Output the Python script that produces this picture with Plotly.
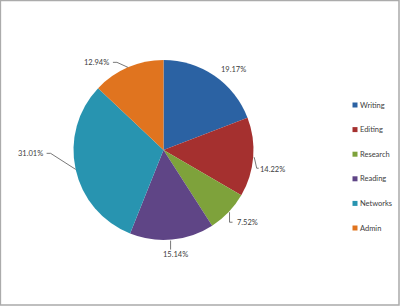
import math
import plotly.graph_objects as go

categories = ["Writing", "Editing", "Research", "Reading", "Networks", "Admin"]
shares = [19.17, 14.22, 7.52, 15.14, 31.01, 12.94]
colors = ["#2B62A3", "#A5302F", "#7EA23B", "#5F4586", "#2894B0", "#E0741F"]

W, H = 400, 306
CX, CY, R = 163.5, 150.0, 90.0

# label layout offsets (pixel offsets from slice edge point), style only
label_off = [(5, -6), (5, 12), (6, 10), (3, 15), (-31, -16), (-17, -5)]
label_anchor = ["left", "left", "left", "center", "right", "right"]
leader = [False, True, True, True, True, True]

fig = go.Figure()
fig.add_trace(go.Pie(
    labels=categories, values=shares, sort=False, direction="clockwise",
    rotation=0, marker=dict(colors=colors, line=dict(width=0)),
    textinfo="none", hoverinfo="label+percent", showlegend=False,
    domain=dict(x=[(CX - R) / W, (CX + R) / W],
                y=[(H - CY - R) / H, (H - CY + R) / H]),
))

def px2paper(x, y):
    return x / W, (H - y) / H

total = sum(shares)
shapes = []
annotations = []
cum = 0.0
for i, (cat, v) in enumerate(zip(categories, shares)):
    mid = (cum + v / 2) / total * 2 * math.pi
    cum += v
    ex = CX + R * math.sin(mid)
    ey = CY - R * math.cos(mid)
    dx, dy = label_off[i]
    lx, ly = ex + dx, ey + dy
    anc = label_anchor[i]
    if leader[i]:
        if anc == "left":
            ex0 = ex + 1
            pts = [(ex0, ey), (lx - 1.5, ly - 1), (lx + 0.5, ly - 1)] if i == 1 else [(ex0, ey), (ex0, ly), (lx - 2, ly)]
        elif anc == "right":
            pts = [(ex, ey), (lx + 6, ly), (lx + 2, ly)]
        else:
            pts = [(ex - 1.5, ey + 1), (ex - 1.5, ly - 5)]
        path = "M " + " L ".join(f"{px2paper(x, y)[0]:.5f},{px2paper(x, y)[1]:.5f}" for x, y in pts)
        shapes.append(dict(type="path", path=path, xref="paper", yref="paper",
                           line=dict(color="#555555", width=0.8)))
    ax, ay = px2paper(lx, ly)
    annotations.append(dict(x=ax, y=ay, xref="paper", yref="paper",
                            text=f"{v:.2f}%", showarrow=False, xanchor=anc,
                            yanchor="middle",
                            font=dict(family="Lato", size=7.5, color="#404040")))

# manual legend
LX, LY0, LDY = 352.5, 105, 24.6
for i, cat in enumerate(categories):
    y = LY0 + i * LDY
    x0, y0 = px2paper(LX, y - 2.5)
    x1, y1 = px2paper(LX + 5, y + 2.5)
    shapes.append(dict(type="rect", xref="paper", yref="paper", x0=x0, x1=x1,
                       y0=y1, y1=y0, fillcolor=colors[i], line=dict(width=0)))
    tx, ty = px2paper(LX + 5.5, y)
    annotations.append(dict(x=tx, y=ty, xref="paper", yref="paper", text=cat,
                            showarrow=False, xanchor="left", yanchor="middle",
                            font=dict(family="Lato", size=7.5, color="#404040")))

# outer chart border
shapes.append(dict(type="rect", xref="paper", yref="paper", x0=0.001, x1=0.9975,
                   y0=0.003, y1=0.998, line=dict(color="#ABABAB", width=1.5)))

fig.update_layout(width=W, height=H, margin=dict(l=0, r=0, t=0, b=0),
                  paper_bgcolor="white", plot_bgcolor="white",
                  shapes=shapes, annotations=annotations)
fig.write_html("out.html")
